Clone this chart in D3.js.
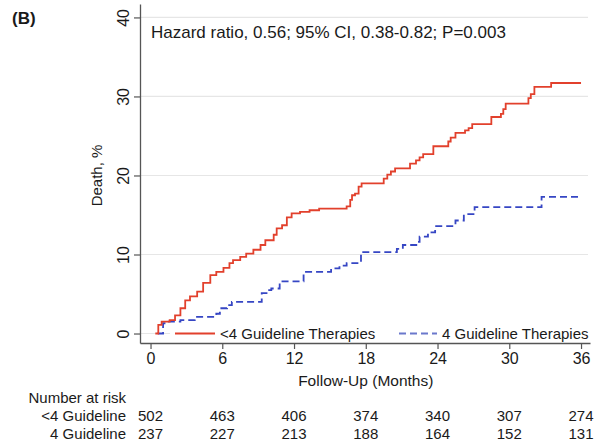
<!DOCTYPE html>
<html>
<head>
<meta charset="utf-8">
<script src="https://cdn.jsdelivr.net/npm/d3@7"></script>
<style>
  html, body { margin: 0; padding: 0; background: #fff; }
  svg { display: block; font-family: "Liberation Sans", Arial, Helvetica, sans-serif; }
</style>
</head>
<body>
<svg id="chart" width="600" height="447"></svg>
<script>
// Cumulative mortality (%) by months of follow-up, stepwise Kaplan-Meier style
const lessThan4Months = [0.4, 0.65, 0.93, 1.6, 2.05, 2.5, 2.9, 3.3, 3.9, 4.4, 5.0, 5.5, 6.1, 6.6, 6.9, 7.5, 8.0, 8.6, 9.2, 9.6, 10.3, 10.55, 11.0, 11.4, 11.8, 12.5, 13.3, 14.1, 16.4, 16.7, 16.85, 17.1, 17.4, 17.65, 19.5, 19.8, 20.1, 20.45, 21.7, 22.2, 22.5, 22.8, 23.65, 24.9, 25.1, 25.5, 26.3, 26.6, 26.9, 28.5, 29.3, 29.5, 29.7, 31.6, 31.8, 32.1, 33.5, 36.0];
const lessThan4Values = [0.0, 1.1, 1.5, 1.7, 2.3, 3.2, 4.2, 4.7, 5.3, 6.4, 7.4, 7.8, 8.3, 8.9, 9.3, 9.7, 10.1, 10.6, 11.2, 11.8, 12.5, 13.3, 13.7, 14.7, 15.2, 15.4, 15.6, 15.8, 16.1, 16.9, 17.5, 17.7, 18.6, 19.0, 19.6, 20.1, 20.5, 20.9, 21.5, 21.9, 22.3, 22.7, 23.7, 24.3, 24.8, 25.4, 25.7, 26.0, 26.5, 27.4, 27.8, 28.4, 29.1, 29.8, 30.3, 31.2, 31.7, 31.7];

const four4Months = [0.6, 1.05, 1.35, 2.5, 3.7, 5.5, 5.8, 6.4, 6.8, 9.3, 9.7, 10.1, 10.8, 12.8, 15.1, 15.8, 16.4, 17.6, 20.6, 21.1, 22.3, 22.5, 23.2, 23.8, 25.5, 26.2, 27.1, 32.7, 35.9];
const four4Values = [0.0, 1.3, 1.5, 1.7, 2.1, 2.5, 3.2, 3.6, 4.0, 5.1, 5.5, 5.7, 6.6, 7.8, 8.25, 8.6, 8.9, 10.3, 10.7, 11.2, 11.6, 12.25, 12.8, 13.6, 14.3, 15.1, 16.0, 17.3, 17.3];

const xTicks = [0, 6, 12, 18, 24, 30, 36];
const yTicks = [0, 10, 20, 30, 40];
const seriesNames = ["<4 Guideline Therapies", "4 Guideline Therapies"];
const riskLabels = ["<4 Guideline", "4 Guideline"];
const riskLessThan4 = [502, 463, 406, 374, 340, 307, 274];
const riskFour = [237, 227, 213, 188, 164, 152, 131];

const svg = d3.select("#chart");
const x = d3.scaleLinear().domain([-0.88, 36.75]).range([140, 590]);
const y = d3.scaleLinear().domain([-1.2, 41.7]).range([343, 4]);

const textColor = "#1a1a1a";
const axisColor = "#555";

// Panel tag
svg.append("text").attr("x", 12).attr("y", 24)
  .attr("font-size", 17).attr("font-weight", "bold").attr("fill", textColor).text("(B)");

// Horizontal gridlines
svg.append("g").selectAll("line").data(yTicks).join("line")
  .attr("x1", x.range()[0]).attr("x2", 588)
  .attr("y1", d => y(d)).attr("y2", d => y(d))
  .attr("stroke", "#e6e6e6").attr("stroke-width", 1.2);

// Axes
const yAxis = svg.append("g").attr("transform", `translate(${x.range()[0]},0)`)
  .call(d3.axisLeft(y).tickValues(yTicks).tickSize(6).tickSizeOuter(0));
yAxis.select(".domain").attr("stroke", axisColor).attr("stroke-width", 1.3);
yAxis.selectAll(".tick line").attr("stroke", axisColor).attr("stroke-width", 1.2);
yAxis.selectAll(".tick text")
  .attr("font-size", 16).attr("fill", textColor)
  .attr("font-family", "Liberation Sans, Arial, sans-serif")
  .attr("text-anchor", "middle")
  .attr("x", -17).attr("y", 0).attr("dy", "0.35em")
  .attr("transform", "rotate(-90,-17,0)");

const xAxis = svg.append("g").attr("transform", `translate(0,${y.range()[0]})`)
  .call(d3.axisBottom(x).tickValues(xTicks).tickSize(6).tickSizeOuter(0).tickPadding(4));
xAxis.select(".domain").attr("stroke", axisColor).attr("stroke-width", 1.3);
xAxis.selectAll(".tick line").attr("stroke", axisColor).attr("stroke-width", 1.2);
xAxis.selectAll(".tick text").attr("font-size", 16).attr("fill", textColor)
  .attr("font-family", "Liberation Sans, Arial, sans-serif");

// Axis titles
svg.append("text").attr("transform", `translate(102,${(y(40) + y(0)) / 2}) rotate(-90)`)
  .attr("text-anchor", "middle").attr("font-size", 15).attr("fill", textColor).text("Death, %");
svg.append("text").attr("x", (x(0) + x(36)) / 2).attr("y", 386)
  .attr("text-anchor", "middle").attr("font-size", 15.5).attr("fill", textColor).text("Follow-Up (Months)");

// Hazard ratio annotation
svg.append("text").attr("x", 151).attr("y", 38).attr("font-size", 17).attr("fill", textColor)
  .text("Hazard ratio, 0.56; 95% CI, 0.38-0.82; P=0.003");

// Curves
const line = d3.line().x(d => x(d[0])).y(d => y(d[1])).curve(d3.curveStepAfter);
const redPts = d3.zip(lessThan4Months, lessThan4Values);
const bluePts = d3.zip(four4Months, four4Values);

// Legend background sits over the zero gridline
svg.append("rect").attr("x", 170).attr("y", 325).attr("width", 418).attr("height", 16).attr("fill", "#fff");

svg.append("path").datum(bluePts).attr("d", line)
  .attr("fill", "none").attr("stroke", "#3646c4").attr("stroke-width", 1.8)
  .attr("stroke-dasharray", "7,4");
svg.append("path").datum(redPts).attr("d", line)
  .attr("fill", "none").attr("stroke", "#e2402c").attr("stroke-width", 1.8);

// Legend
const legY = y(0);
svg.append("line").attr("x1", 175).attr("x2", 215).attr("y1", legY).attr("y2", legY)
  .attr("stroke", "#e2402c").attr("stroke-width", 1.8);
svg.append("text").attr("x", 220).attr("y", legY).attr("dy", "0.35em")
  .attr("font-size", 15).attr("fill", textColor).text(seriesNames[0]);
svg.append("line").attr("x1", 399).attr("x2", 437).attr("y1", legY).attr("y2", legY)
  .attr("stroke", "#6b78cc").attr("stroke-width", 1.8).attr("stroke-dasharray", "7,4");
svg.append("text").attr("x", 442).attr("y", legY).attr("dy", "0.35em")
  .attr("font-size", 15).attr("fill", textColor).text(seriesNames[1]);

// Number at risk table
svg.append("text").attr("x", 126).attr("y", 403).attr("text-anchor", "end")
  .attr("font-size", 15).attr("fill", textColor).text("Number at risk");
[riskLessThan4, riskFour].forEach((row, i) => {
  const rowY = 421 + i * 18;
  svg.append("text").attr("x", 126).attr("y", rowY).attr("text-anchor", "end")
    .attr("font-size", 15).attr("fill", textColor).text(riskLabels[i]);
  svg.append("g").selectAll("text").data(row).join("text")
    .attr("x", (d, j) => x(xTicks[j]))
    .attr("y", rowY).attr("text-anchor", "middle")
    .attr("font-size", 15).attr("fill", textColor).text(d => d);
});
</script>
</body>
</html>
